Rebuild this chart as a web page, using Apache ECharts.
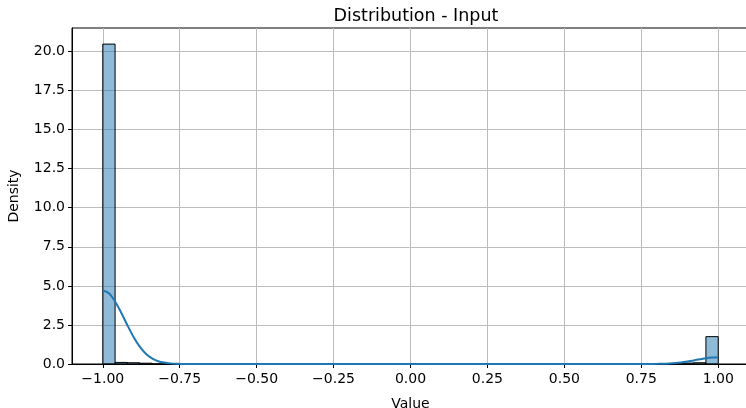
<!DOCTYPE html>
<html>
<head>
<meta charset="utf-8">
<script src="https://cdn.jsdelivr.net/npm/echarts@6/dist/echarts.min.js"></script>
<style>html,body{margin:0;padding:0;background:#fff}#c{width:746px;height:408px}</style>
</head>
<body>
<div id="c"></div>
<script>
// Histogram: 50 bins of width 0.04 from -1 to 1
var binStart = -1.0;
var binWidth = 0.04;
var binDensity = [
  20.47, 0.10, 0.08, 0.05, 0, 0, 0, 0, 0, 0,
  0, 0, 0, 0, 0, 0, 0, 0, 0, 0,
  0, 0, 0, 0, 0, 0, 0, 0, 0, 0,
  0, 0, 0, 0, 0, 0, 0, 0, 0, 0,
  0, 0, 0, 0, 0, 0, 0, 0.06, 0.08, 1.75
];
// KDE curve points
var kdeX = [-1.00,-0.98,-0.96,-0.94,-0.92,-0.90,-0.88,-0.86,-0.84,-0.82,-0.80,-0.78,-0.76,-0.74,-0.72,-0.70,
            -0.60,-0.40,-0.20,0.00,0.20,0.40,0.60,0.70,
            0.76,0.78,0.80,0.82,0.84,0.86,0.88,0.90,0.92,0.94,0.96,0.98,1.00];
var kdeY = [4.70,4.52,4.00,3.28,2.48,1.73,1.11,0.66,0.36,0.18,0.09,0.04,0.015,0.006,0.002,0.001,
            0,0,0,0,0,0,0,0.0005,
            0.001,0.003,0.008,0.017,0.033,0.06,0.10,0.16,0.23,0.30,0.37,0.41,0.43];
var xTicks = [-1.00,-0.75,-0.50,-0.25,0.00,0.25,0.50,0.75,1.00];
var yTicks = [0,2.5,5,7.5,10,12.5,15,17.5,20];

var barData = binDensity.map(function(d,i){ return [binStart + i*binWidth, binStart + (i+1)*binWidth, d]; });
var lineData = kdeX.map(function(x,i){ return [x, kdeY[i]]; });

var font = 'DejaVu Sans';
var chart = echarts.init(document.getElementById('c'), null, {renderer:'canvas'});
chart.setOption({
  animation: false,
  backgroundColor: '#fff',
  title: {
    text: 'Distribution - Input', left: 411, top: 2, textAlign: 'center',
    textStyle: {fontFamily: font, fontSize: 17.5, fontWeight: 'normal', color: '#000'}
  },
  grid: {left: 72, right: -3, top: 28, bottom: 44, outerBoundsMode: 'none', containLabel: false,
         show: true, borderColor: '#000', borderWidth: 1, backgroundColor: 'transparent'},
  xAxis: {
    type: 'value', min: -1.1, max: 1.1,
    name: 'Value', nameLocation: 'middle', nameGap: 33,
    nameTextStyle: {fontFamily: font, fontSize: 14, color: '#000'},
    axisLine: {show: true, onZero: false, lineStyle: {color: '#000', width: 1}},
    axisTick: {show: true, length: 4, lineStyle: {color: '#000'}, customValues: xTicks},
    axisLabel: {fontFamily: font, fontSize: 14, color: '#000', margin: 8, customValues: xTicks,
      formatter: function(v){ return (v < 0 ? '\u2212' : '') + Math.abs(v).toFixed(2); }},
    splitLine: {show: true, lineStyle: {color: '#bcbcbc', width: 1}}
  },
  yAxis: {
    type: 'value', min: 0, max: 21.5,
    name: 'Density', nameLocation: 'middle', nameGap: 51, nameRotate: 90,
    nameTextStyle: {fontFamily: font, fontSize: 14, color: '#000'},
    axisLine: {show: true, onZero: false, lineStyle: {color: '#000', width: 1}},
    axisTick: {show: true, length: 4, lineStyle: {color: '#000'}, customValues: yTicks},
    axisLabel: {fontFamily: font, fontSize: 14, color: '#000', margin: 7, customValues: yTicks,
      formatter: function(v){ return v.toFixed(1); }},
    splitLine: {show: true, lineStyle: {color: '#bcbcbc', width: 1}}
  },
  series: [
    {
      type: 'custom',
      data: barData,
      clip: true,
      renderItem: function(params, api){
        var p0 = api.coord([api.value(0), api.value(2)]);
        var p1 = api.coord([api.value(1), 0]);
        return {
          type: 'rect',
          shape: {x: p0[0], y: p0[1], width: p1[0]-p0[0], height: p1[1]-p0[1]},
          style: {fill: 'rgba(31,119,180,0.5)', stroke: '#000', lineWidth: 1}
        };
      },
      encode: {x: [0,1], y: 2}
    },
    {
      type: 'line',
      data: lineData,
      showSymbol: false,
      smooth: 0.3,
      lineStyle: {color: '#1f77b4', width: 2},
      z: 5
    }
  ]
});
</script>
</body>
</html>
